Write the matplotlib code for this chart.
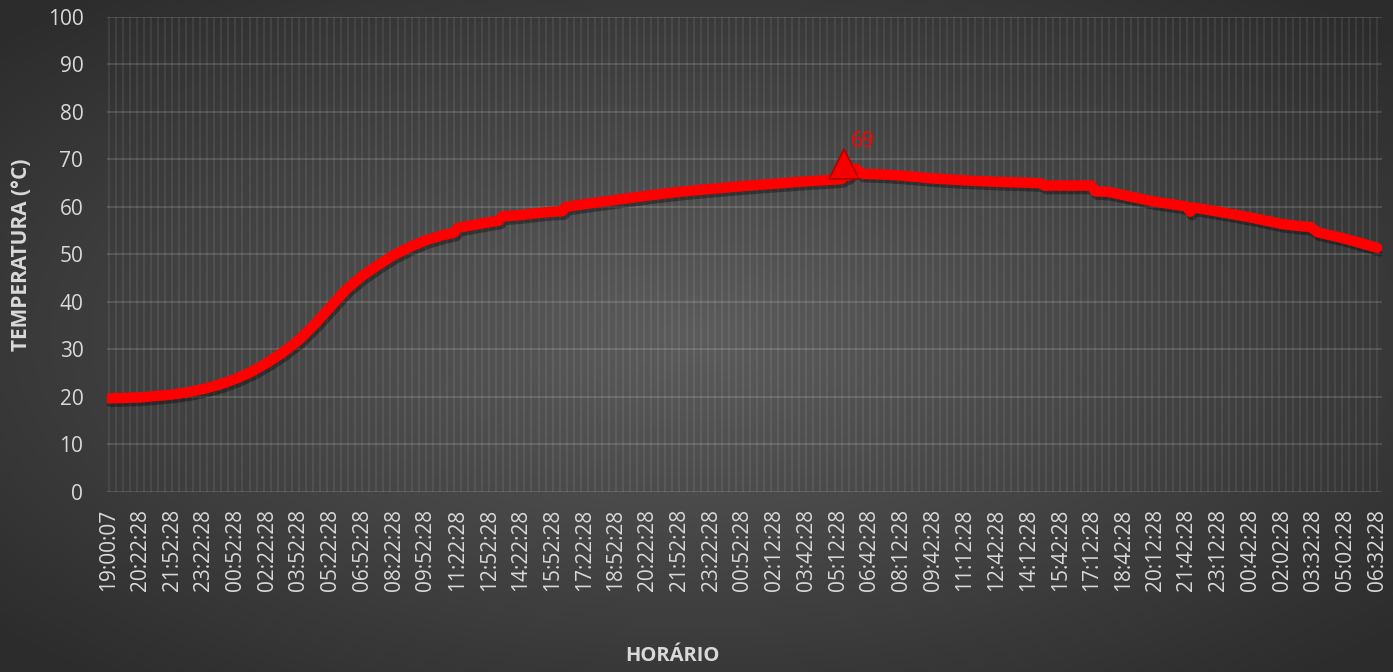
import numpy as np
import matplotlib
matplotlib.use("Agg")
import matplotlib.pyplot as plt
import matplotlib.patheffects as pe
from matplotlib.ticker import MultipleLocator

# Temperatura x horário (leituras)

horarios = ["19:00:07", "20:22:28", "21:52:28", "23:22:28", "00:52:28", "02:22:28",
            "03:52:28", "05:22:28", "06:52:28", "08:22:28", "09:52:28", "11:22:28",
            "12:52:28", "14:22:28", "15:52:28", "17:22:28", "18:52:28", "20:22:28",
            "21:52:28", "23:22:28", "00:52:28", "02:12:28", "03:42:28", "05:12:28",
            "06:42:28", "08:12:28", "09:42:28", "11:12:28", "12:42:28", "14:12:28",
            "15:42:28", "17:12:28", "18:42:28", "20:12:28", "21:42:28", "23:12:28",
            "00:42:28", "02:02:28", "03:32:28", "05:02:28", "06:32:28"]

# posição em unidades de rótulo (0 = 19:00:07, 40 = 06:32:28)
posicao = [0, 1, 2, 2.5, 3, 3.5, 4, 4.5, 5, 5.5, 6, 6.5, 7, 7.5, 8, 8.5, 9, 9.5,
           10, 10.5, 10.9, 11.0, 11.5, 12, 12.3, 12.4, 13, 13.5, 14, 14.3, 14.4,
           15, 16, 17, 18, 19, 20, 21, 22, 23, 23.12, 23.2, 23.3, 23.55, 23.75,
           24.5, 25, 26, 27, 28, 29, 29.4, 29.5, 30, 31, 31.1, 31.5, 32, 33, 34,
           34.1, 34.2, 35, 36, 37, 37.5, 37.9, 38.1, 39, 40]
temperatura = [19.7, 19.9, 20.5, 21.0, 21.7, 22.6, 23.8, 25.3, 27.2, 29.4, 32.0,
               35.3, 39.0, 42.7, 45.5, 47.8, 49.9, 51.6, 53.0, 54.0, 54.6, 55.6,
               56.2, 56.8, 57.1, 58.0, 58.3, 58.7, 59.0, 59.1, 60.0, 60.6, 61.5,
               62.4, 63.2, 63.8, 64.4, 64.9, 65.4, 65.8, 65.9, 69.0, 66.5, 68.1,
               67.0, 66.8, 66.6, 66.0, 65.6, 65.3, 65.1, 65.0, 64.5, 64.5, 64.5,
               63.3, 63.2, 62.5, 61.1, 60.1, 59.0, 59.9, 59.0, 57.8, 56.4, 56.0,
               55.8, 54.7, 53.3, 51.4]

pico_pos = 23.2
pico_valor = 69

fig = plt.figure(figsize=(13.93, 6.72), dpi=100)

# fundo com gradiente radial
bg = fig.add_axes([0, 0, 1, 1], zorder=-10)
yy, xx = np.mgrid[-1:1:300j, -1:1:600j]
r = np.clip(np.sqrt(xx**2 + yy**2) / 1.35, 0, 1)
g = (92 - 48 * r) / 255
bg.imshow(np.dstack([g, g, g]), aspect="auto", extent=[0, 1, 0, 1])
bg.axis("off")

ax = fig.add_axes([0.0768, 0.2679, 0.9153, 0.7068])
ax.set_facecolor("none")
for s in ax.spines.values():
    s.set_visible(False)

ax.set_xlim(-0.05, 40.15)
ax.set_ylim(0, 100)
ax.set_yticks(range(0, 101, 10))
ax.set_xticks(range(len(horarios)))
ax.set_xticklabels(horarios, rotation=90, va="top", ha="center")
ax.xaxis.set_minor_locator(MultipleLocator(2 / 9))
ax.xaxis.remove_overlapping_locs = False

ax.tick_params(axis="both", which="both", length=0, colors="#d9d9d9",
               labelsize=15)
ax.tick_params(axis="y", pad=17)
ax.tick_params(axis="x", pad=12)
for lab in ax.get_xticklabels() + ax.get_yticklabels():
    lab.set_family("Open Sans")

ax.grid(axis="y", which="major", color="white", alpha=0.16, lw=1.2)
ax.grid(axis="x", which="minor", color="white", alpha=0.09, lw=1.2)
ax.set_axisbelow(True)

ax.plot(posicao, temperatura, color="#ff0000", lw=7.5, solid_capstyle="round",
        solid_joinstyle="round",
        path_effects=[pe.SimpleLineShadow(offset=(1.5, -2.5), shadow_color="black",
                                          alpha=0.35),
                      pe.Normal()])
ax.plot([pico_pos], [pico_valor], marker="^", ms=22, color="#f50000",
        mec="#b00000", mew=1.2, zorder=5)
ax.annotate(str(pico_valor), (pico_pos, pico_valor), xytext=(5, 9),
            textcoords="offset points", color="#ff0000", fontsize=15,
            family="Open Sans", ha="left", va="bottom")

fig.text(22 / 1393, 1 - 255 / 672, "TEMPERATURA (°C)", rotation=90,
         ha="center", va="center", color="#d9d9d9", fontsize=15,
         fontweight="bold", family="Open Sans")
fig.text(672 / 1393, 1 - 656 / 672, "HORÁRIO", ha="center", va="center",
         color="#d9d9d9", fontsize=14.5, fontweight="bold", family="Open Sans")

fig.savefig("out.png", dpi=100)
